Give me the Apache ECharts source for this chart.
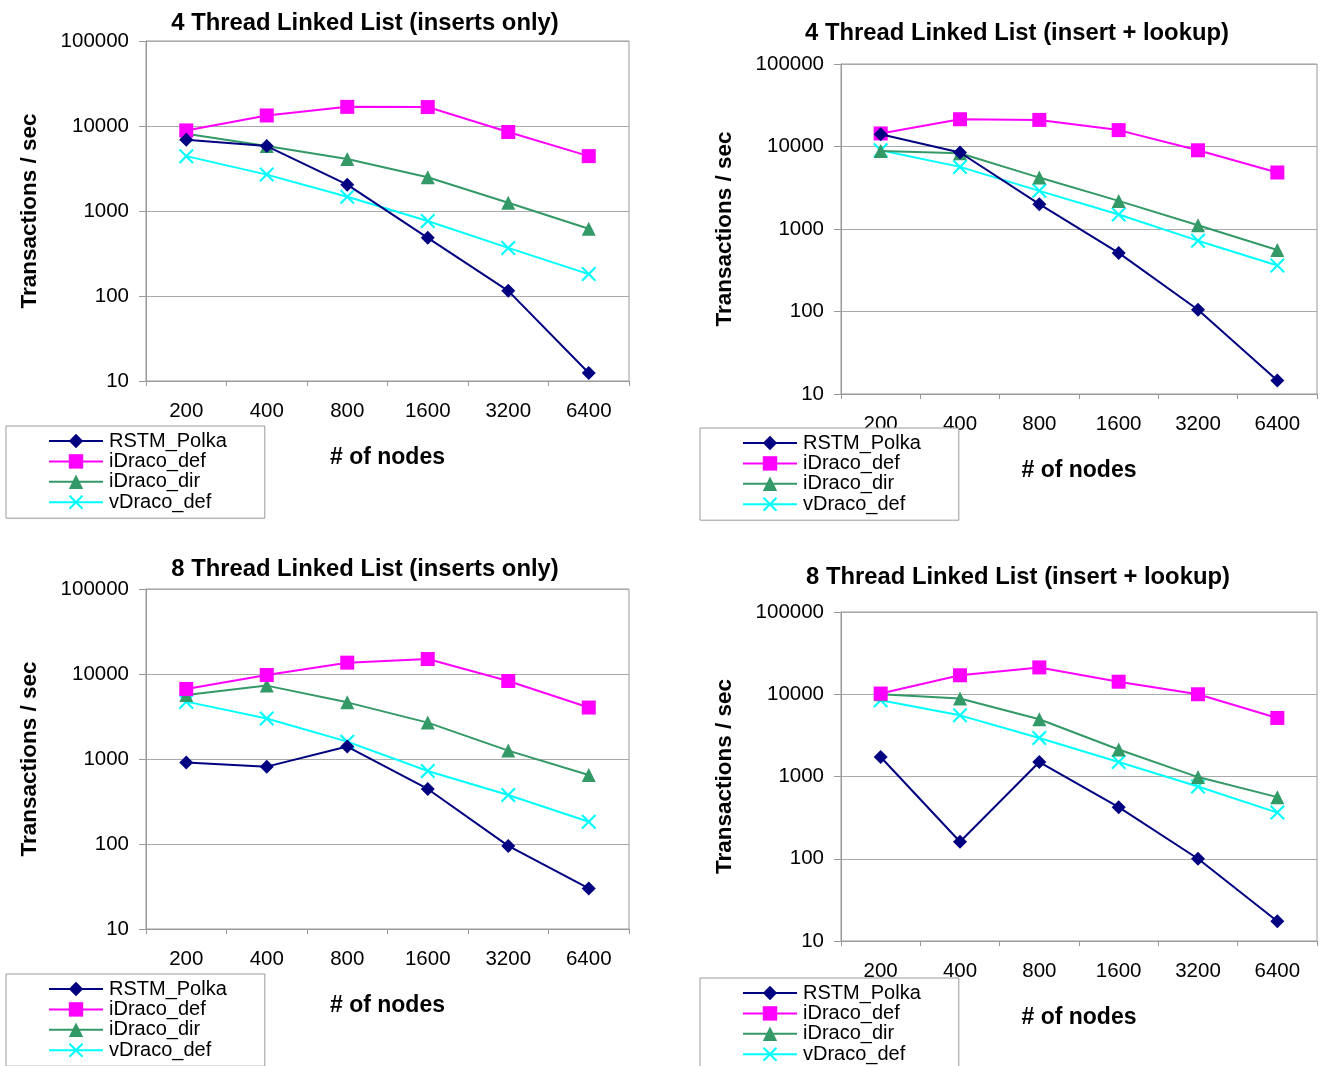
<!DOCTYPE html>
<html>
<head>
<meta charset="utf-8">
<script src="https://cdn.jsdelivr.net/npm/echarts@6/dist/echarts.min.js"></script>
<style>
  html, body { margin: 0; padding: 0; background: #fff; }
  #chart-div { width: 1323px; height: 1066px; }
</style>
</head>
<body>
<div id="chart-div"></div>
<script>
// x categories (# of nodes)
const nodes = ['200', '400', '800', '1600', '3200', '6400']
const seriesNames = ['RSTM_Polka', 'iDraco_def', 'iDraco_dir', 'vDraco_def']

const titles = [
    '4 Thread Linked List (inserts only)',
    '4 Thread Linked List (insert + lookup)',
    '8 Thread Linked List (inserts only)',
    '8 Thread Linked List (insert + lookup)'
]

// 4 threads, inserts only
const t4InsRstm = [6900, 5800, 2040, 483, 115, 12.4]
const t4InsIDef = [8870, 13300, 16800, 16700, 8500, 4420]
const t4InsIDir = [8100, 5800, 4100, 2490, 1250, 617]
const t4InsVDef = [4420, 2680, 1470, 762, 368, 181]

// 4 threads, insert + lookup
const t4LkRstm = [14100, 8460, 2000, 513, 105, 14.6]
const t4LkIDef = [14400, 21400, 21000, 15800, 9000, 4840]
const t4LkIDir = [8840, 8300, 4200, 2190, 1110, 557]
const t4LkVDef = [9000, 5660, 2900, 1500, 722, 361]

// 8 threads, inserts only
const t8InsRstm = [907, 813, 1400, 444, 95, 30]
const t8InsIDef = [6670, 9730, 13600, 15000, 8270, 4030]
const t8InsIDir = [5670, 7300, 4640, 2680, 1255, 649]
const t8InsVDef = [4730, 3000, 1600, 723, 377, 183]

// 8 threads, insert + lookup
const t8LkRstm = [1725, 161, 1500, 424, 100, 17.4]
const t8LkIDef = [10200, 17000, 21200, 14200, 10000, 5150]
const t8LkIDir = [10000, 8870, 4960, 2130, 984, 561]
const t8LkVDef = [8450, 5540, 2940, 1500, 755, 364]

const panels = [
    [t4InsRstm, t4InsIDef, t4InsIDir, t4InsVDef],
    [t4LkRstm, t4LkIDef, t4LkIDir, t4LkVDef],
    [t8InsRstm, t8InsIDef, t8InsIDir, t8InsVDef],
    [t8LkRstm, t8LkIDef, t8LkIDir, t8LkVDef]
]

// layout per panel
const grids = [
    { left: 146, top: 41, width: 483, height: 340 },
    { left: 841, top: 64, width: 476, height: 330 },
    { left: 146, top: 589, width: 483, height: 340 },
    { left: 841, top: 612, width: 476, height: 329 }
]
const titlePos = [[365, 11], [1017, 21], [365, 557], [1018, 565]]
const legendPos = [[6, 426], [700, 428], [6, 974], [700, 978]]

const FONT = '"Liberation Sans", Arial, sans-serif'
const xMark = 'path://M0,1L1,0L5,4L9,0L10,1L6,5L10,9L9,10L5,6L1,10L0,9L4,5Z'
const looks = [
    { color: '#000080', symbol: 'diamond', size: 14 },
    { color: '#ff00ff', symbol: 'rect', size: 14 },
    { color: '#339966', symbol: 'triangle', size: 14 },
    { color: '#00ffff', symbol: xMark, size: 15 }
]

let myChart = echarts.init(document.getElementById('chart-div'))

const option = {
    animation: false,
    backgroundColor: '#fff',
    title: titles.map((t, i) => ({
        text: t,
        left: titlePos[i][0],
        top: titlePos[i][1],
        textAlign: 'center',
        padding: 0,
        textStyle: { fontFamily: FONT, fontSize: 23.8, fontWeight: 'bold', color: '#000' }
    })),
    legend: legendPos.map(p => ({
        data: seriesNames,
        orient: 'vertical',
        left: p[0],
        top: p[1],
        height: 110,
        padding: [5, 38, 6, 42],
        itemGap: 0.4,
        itemWidth: 54,
        itemHeight: 18,
        backgroundColor: '#fff',
        borderColor: '#999',
        borderWidth: 1,
        borderRadius: 0,
        selectedMode: false,
        textStyle: { fontFamily: FONT, fontSize: 20, color: '#000', lineHeight: 20, padding: [0, 0, 0, 1] }
    })),
    grid: grids.map(g => Object.assign({ show: true, borderColor: '#999', borderWidth: 1, backgroundColor: '#fff' }, g)),
    xAxis: grids.map((g, i) => ({
        type: 'category',
        gridIndex: i,
        data: nodes,
        boundaryGap: true,
        name: '# of nodes',
        nameLocation: 'middle',
        nameGap: 65,
        nameTextStyle: { fontFamily: FONT, fontSize: 23, fontWeight: 'bold', color: '#000' },
        axisLine: { lineStyle: { color: '#999' } },
        axisTick: { show: true, length: 5, lineStyle: { color: '#999' } },
        axisLabel: { fontFamily: FONT, fontSize: 20.5, color: '#000', margin: 20 },
        splitLine: { show: false }
    })),
    yAxis: grids.map((g, i) => ({
        type: 'log',
        logBase: 10,
        gridIndex: i,
        min: 10,
        max: 100000,
        name: 'Transactions / sec',
        nameLocation: 'middle',
        nameGap: 105,
        nameTextStyle: { fontFamily: FONT, fontSize: 22.5, fontWeight: 'bold', color: '#000' },
        axisLine: { show: true, lineStyle: { color: '#999' } },
        axisTick: { show: true, length: 7, lineStyle: { color: '#999' } },
        axisLabel: {
            fontFamily: FONT, fontSize: 20.5, color: '#000', margin: 17,
            formatter: v => String(Math.round(v))
        },
        minorTick: { show: false },
        splitLine: { show: true, lineStyle: { color: '#aaa', width: 1 } }
    })),
    series: []
}

panels.forEach((panel, p) => {
    panel.forEach((vals, s) => {
        option.series.push({
            name: seriesNames[s],
            type: 'line',
            xAxisIndex: p,
            yAxisIndex: p,
            data: vals,
            symbol: looks[s].symbol,
            symbolSize: looks[s].size,
            showAllSymbol: true,
            itemStyle: { color: looks[s].color },
            lineStyle: { color: looks[s].color, width: 2 },
            z: 2 + (s === 0 ? 4 : 3 - s)
        })
    })
})

myChart.setOption(option)
</script>
</body>
</html>
